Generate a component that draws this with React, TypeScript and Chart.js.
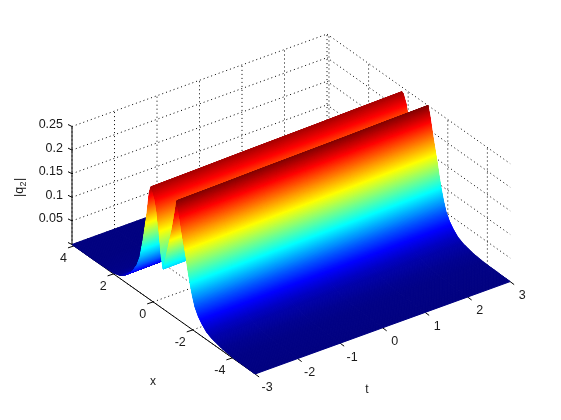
import React, { useEffect, useRef } from "react";
import { Chart, registerables } from "chart.js";

Chart.register(...registerables);

// Data
const xProfile = [4.1, 3, 2.4, 2, 1.7, 1.42, 1.07, 0.82, 0.67, 0.51, 0.31, 0.2, 0.12, 0.05, -0.1, -0.2, -0.3, -0.4, -0.5, -0.65, -0.8, -0.95, -1.1, -1.2, -1.3, -1.46, -1.66, -1.76, -1.86, -1.98, -2.11, -2.28, -2.47, -2.7, -2.97, -3.5, -4, -5.15];
const zProfile = [0, 0, 0.001, 0.002, 0.006, 0.015, 0.032, 0.054, 0.075, 0.116, 0.179, 0.225, 0.24, 0.238, 0.22, 0.195, 0.155, 0.11, 0.0845, 0.1165, 0.1485, 0.18, 0.22, 0.25, 0.23, 0.189, 0.144, 0.118, 0.095, 0.072, 0.052, 0.037, 0.026, 0.016, 0.01, 0.004, 0.0015, 0];
const tSamples = [-3, -2, -1, 0, 1, 2, 3];
const ridgeDrift = [0, 0.03, 0.07, 0.1, 0.13, 0.17, 0.2];
const xTicks = [4, 2, 0, -2, -4];
const tTicks = [-3, -2, -1, 0, 1, 2, 3];
const zTicks = [0, 0.05, 0.1, 0.15, 0.2, 0.25];
const zTickLabels = ["", "0.05", "0.1", "0.15", "0.2", "0.25"];
const xLimits = [-5.15, 4.1];
const tLimits = [-3, 3];
const zMax = 0.25;

// View projection of the 3-D box onto the page
const project = (x: number, t: number, z: number) => {
  const u = xLimits[1] - x;
  const v = t - tLimits[0];
  return { x: 72 + 19.8 * u + 42.5 * v, y: 244.5 + 14 * u - 15.4 * v - 472 * z };
};

const clamp = (v: number) => Math.max(0, Math.min(1, v));
const jet = (v: number) => {
  const r = clamp(Math.min(4 * v - 1.5, -4 * v + 4.5));
  const g = clamp(Math.min(4 * v - 0.5, -4 * v + 3.5));
  const b = clamp(Math.min(4 * v + 0.5, -4 * v + 2.5));
  return `rgb(${Math.round(r * 255)},${Math.round(g * 255)},${Math.round(b * 255)})`;
};

const rows = xProfile.map((x0, i) => ({
  label: `x=${x0}`,
  z: zProfile[i],
  data: tSamples.map((t, j) => {
    const shifted = x0 === xLimits[0] ? x0 : x0 + ridgeDrift[j];
    const x = Math.max(xLimits[0], Math.min(xLimits[1], shifted));
    return project(x, t, zProfile[i]);
  }),
}));

const surfacePlugin = {
  id: "surface3d",
  beforeDatasetsDraw(chart: any) {
    const { ctx, scales } = chart;
    const px = (p: { x: number; y: number }) => ({
      x: scales.x.getPixelForValue(p.x),
      y: scales.y.getPixelForValue(p.y),
    });
    const seg = (a: any, b: any) => {
      const A = px(a);
      const B = px(b);
      ctx.beginPath();
      ctx.moveTo(A.x, A.y);
      ctx.lineTo(B.x, B.y);
      ctx.stroke();
    };
    const [xa, xb] = xLimits;
    const [ta, tb] = tLimits;

    // Dotted grid on floor and the two back walls
    ctx.save();
    ctx.strokeStyle = "#000";
    ctx.lineWidth = 1;
    ctx.setLineDash([1, 3]);
    for (const x of xTicks) {
      seg(project(x, ta, 0), project(x, tb, 0));
      seg(project(x, tb, 0), project(x, tb, zMax));
    }
    for (const t of tTicks) {
      seg(project(xa, t, 0), project(xb, t, 0));
      seg(project(xb, t, 0), project(xb, t, zMax));
    }
    for (const z of zTicks) {
      seg(project(xb, ta, z), project(xb, tb, z));
      seg(project(xb, tb, z), project(xa, tb, z));
    }
    ctx.restore();

    // Axis lines and tick marks
    ctx.save();
    ctx.strokeStyle = "#000";
    ctx.lineWidth = 1;
    seg(project(xb, ta, 0), project(xb, ta, zMax));
    seg(project(xb, ta, 0), project(xa, ta, 0));
    for (const x of xTicks) {
      const p = project(x, ta, 0);
      seg(p, { x: p.x - 6, y: p.y + 2 });
    }
    for (const t of tTicks) {
      const p = project(xa, t, 0);
      seg(p, { x: p.x + 4, y: p.y + 3 });
    }
    for (const z of zTicks) {
      const p = project(xb, ta, z);
      seg(p, { x: p.x - 4, y: p.y - 2 });
    }
    ctx.restore();

    // Surface painted from the back (large x) to the front, interpolated shading
    ctx.save();
    const sets = chart.data.datasets;
    for (let i = 0; i < sets.length - 1; i++) {
      const r0 = sets[i];
      const r1 = sets[i + 1];
      const span = Math.hypot(r1.data[0].x - r0.data[0].x, r1.data[0].y - r0.data[0].y);
      const n = Math.max(2, Math.ceil(Math.abs(r1.z - r0.z) * 2000), Math.ceil(span));
      for (let k = 0; k < n; k++) {
        const f0 = k / n;
        const f1 = (k + 1) / n;
        const colour = jet(((r0.z + (r1.z - r0.z) * (f0 + f1) * 0.5)) / zMax);
        ctx.fillStyle = colour;
        ctx.strokeStyle = colour;
        ctx.lineWidth = 1;
        ctx.beginPath();
        const m = r0.data.length;
        for (let j = 0; j < m; j++) {
          const a = r0.data[j];
          const b = r1.data[j];
          const P = px({ x: a.x + (b.x - a.x) * f0, y: a.y + (b.y - a.y) * f0 });
          if (j === 0) ctx.moveTo(P.x, P.y);
          else ctx.lineTo(P.x, P.y);
        }
        for (let j = m - 1; j >= 0; j--) {
          const a = r0.data[j];
          const b = r1.data[j];
          const P = px({ x: a.x + (b.x - a.x) * f1, y: a.y + (b.y - a.y) * f1 });
          ctx.lineTo(P.x, P.y);
        }
        ctx.closePath();
        ctx.fill();
        ctx.stroke();
      }
    }
    ctx.restore();

    // Text
    ctx.save();
    ctx.fillStyle = "#1a1a1a";
    ctx.font = '12.5px "Liberation Sans", Arial, sans-serif';
    ctx.textBaseline = "middle";
    const text = (s: string, p: { x: number; y: number }, align: CanvasTextAlign) => {
      const P = px(p);
      ctx.textAlign = align;
      ctx.fillText(s, P.x, P.y);
    };
    zTicks.forEach((z, i) => {
      const p = project(xb, ta, z);
      text(zTickLabels[i], { x: p.x - 9, y: p.y - 2 }, "right");
    });
    for (const x of xTicks) {
      const p = project(x, ta, 0);
      text(String(x), { x: p.x - 7, y: p.y + 13 }, "right");
    }
    for (const t of tTicks) {
      const p = project(xa, t, 0);
      text(String(t), { x: p.x + 12, y: p.y + 14 }, "center");
    }
    ctx.font = '12px "Liberation Sans", Arial, sans-serif';
    text("x", { x: 153, y: 382 }, "center");
    text("t", { x: 367, y: 390 }, "center");
    // Rotated z-axis title with a subscript
    const T = px({ x: 21, y: 187 });
    ctx.translate(T.x, T.y);
    ctx.rotate(-Math.PI / 2);
    ctx.textAlign = "left";
    ctx.font = '12.5px "Liberation Sans", Arial, sans-serif';
    ctx.fillText("|q", -10, -1);
    ctx.font = '9px "Liberation Sans", Arial, sans-serif';
    ctx.fillText("2", 0.5, 3);
    ctx.font = '12.5px "Liberation Sans", Arial, sans-serif';
    ctx.fillText("|", 6, -1);
    ctx.restore();
  },
};

export default function App() {
  const ref = useRef<HTMLCanvasElement>(null);
  useEffect(() => {
    const chart = new Chart(ref.current as HTMLCanvasElement, {
      type: "scatter",
      data: {
        datasets: rows.map((r) => ({ ...r, pointRadius: 0, showLine: false })),
      } as any,
      options: {
        animation: false,
        responsive: false,
        maintainAspectRatio: false,
        layout: { padding: 0 },
        plugins: { legend: { display: false }, tooltip: { enabled: false }, title: { display: false } },
        scales: {
          x: { type: "linear", min: 0, max: 561, display: false },
          y: { type: "linear", min: 0, max: 420, reverse: true, display: false },
        },
      },
      plugins: [surfacePlugin],
    } as any);
    return () => chart.destroy();
  }, []);
  return (
    <div style={{ position: "absolute", left: 0, top: 0, width: 561, height: 420, background: "#fff" }}>
      <canvas ref={ref} width={561} height={420} style={{ display: "block" }} />
    </div>
  );
}
